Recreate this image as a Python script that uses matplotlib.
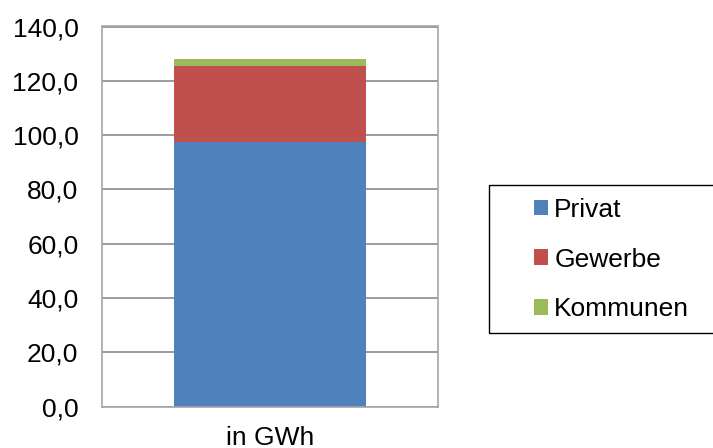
import matplotlib
matplotlib.use("Agg")
import matplotlib.pyplot as plt
from matplotlib.patches import Rectangle

categories = ["in GWh"]
series_names = ["Privat", "Gewerbe", "Kommunen"]
privat = [97.6]
gewerbe = [27.9]
kommunen = [2.5]
colors = ["#4F81BD", "#C0504D", "#9BBB59"]
yticks = [0, 20, 40, 60, 80, 100, 120, 140]

plt.rcParams["font.family"] = ["Liberation Sans", "DejaVu Sans"]

fig = plt.figure(figsize=(7.13, 4.48), dpi=100)
ax = fig.add_axes([102 / 713, 1 - 406.5 / 448, 336 / 713, 380 / 448])

x = list(range(len(categories)))
bottom = [0.0] * len(categories)
handles = []
for name, vals, col in zip(series_names, [privat, gewerbe, kommunen], colors):
    h = ax.bar(x, vals, width=0.574, bottom=bottom, color=col, label=name, zorder=2)
    handles.append(h)
    bottom = [b + v for b, v in zip(bottom, vals)]

ax.set_xlim(-0.5, 0.5)
ax.set_ylim(0, 140)
ax.set_yticks(yticks)
ax.set_yticklabels([f"{t:.1f}".replace(".", ",") for t in yticks])
ax.set_xticks(x)
ax.set_xticklabels(categories)
ax.tick_params(axis="y", length=0, pad=17, labelsize=19)
ax.tick_params(axis="x", length=0, pad=14, labelsize=19)
ax.yaxis.grid(True, color="#8a8a8a", linewidth=1.2, zorder=0)
ax.set_axisbelow(True)
for s in ax.spines.values():
    s.set_color("#a6a6a6")
    s.set_linewidth(1.2)

# legend frame drawn as its own box, entries placed inside
fig.patches.append(Rectangle((489 / 713, 1 - 333 / 448), 230 / 713, 148 / 448,
                             transform=fig.transFigure, fill=False,
                             edgecolor="#000000", linewidth=1.0))
fig.legend(handles=handles, labels=series_names, loc="center left",
           bbox_to_anchor=(534 / 713, 1 - 259.5 / 448), frameon=False,
           fontsize=19, handlelength=0.53, handleheight=0.53,
           handletextpad=0.24, labelspacing=0.97, borderpad=0.0,
           borderaxespad=0.0)

fig.savefig("out.png", dpi=100)
